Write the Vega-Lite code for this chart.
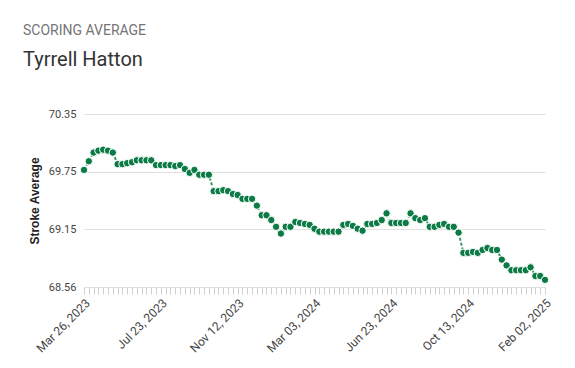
{
  "$schema": "https://vega.github.io/schema/vega-lite/v6.json",
  "autosize": {"type": "none"},
  "width": 461,
  "height": 173,
  "padding": {"left": 84, "top": 114, "right": 30, "bottom": 81},
  "background": "#ffffff",
  "config": {"view": {"stroke": null}},
  "title": {
    "text": "SCORING AVERAGE",
    "subtitle": "Tyrrell Hatton",
    "anchor": "start",
    "frame": "group",
    "dx": -61,
    "offset": 38,
    "font": "Roboto",
    "fontSize": 14,
    "fontWeight": "normal",
    "color": "#757575",
    "subtitleFont": "Roboto",
    "subtitleFontSize": 20,
    "subtitleColor": "#333333",
    "subtitlePadding": 12
  },
  "data": {
    "values": [
      {"date": "2023-03-26", "avg": 69.77},
      {"date": "2023-04-02", "avg": 69.86},
      {"date": "2023-04-09", "avg": 69.95},
      {"date": "2023-04-16", "avg": 69.97},
      {"date": "2023-04-23", "avg": 69.98},
      {"date": "2023-04-30", "avg": 69.97},
      {"date": "2023-05-07", "avg": 69.95},
      {"date": "2023-05-14", "avg": 69.83},
      {"date": "2023-05-21", "avg": 69.83},
      {"date": "2023-05-28", "avg": 69.84},
      {"date": "2023-06-11", "avg": 69.85},
      {"date": "2023-06-18", "avg": 69.87},
      {"date": "2023-06-25", "avg": 69.87},
      {"date": "2023-07-02", "avg": 69.87},
      {"date": "2023-07-09", "avg": 69.87},
      {"date": "2023-07-16", "avg": 69.82},
      {"date": "2023-07-23", "avg": 69.82},
      {"date": "2023-07-30", "avg": 69.82},
      {"date": "2023-08-06", "avg": 69.82},
      {"date": "2023-08-13", "avg": 69.81},
      {"date": "2023-08-20", "avg": 69.82},
      {"date": "2023-08-27", "avg": 69.78},
      {"date": "2023-09-03", "avg": 69.74},
      {"date": "2023-09-10", "avg": 69.77},
      {"date": "2023-09-17", "avg": 69.72},
      {"date": "2023-09-24", "avg": 69.72},
      {"date": "2023-10-01", "avg": 69.72},
      {"date": "2023-10-08", "avg": 69.55},
      {"date": "2023-10-15", "avg": 69.55},
      {"date": "2023-10-22", "avg": 69.56},
      {"date": "2023-10-29", "avg": 69.55},
      {"date": "2023-11-05", "avg": 69.52},
      {"date": "2023-11-12", "avg": 69.51},
      {"date": "2023-11-19", "avg": 69.47},
      {"date": "2023-11-26", "avg": 69.47},
      {"date": "2023-12-03", "avg": 69.47},
      {"date": "2023-12-10", "avg": 69.4},
      {"date": "2023-12-17", "avg": 69.3},
      {"date": "2023-12-24", "avg": 69.3},
      {"date": "2023-12-31", "avg": 69.25},
      {"date": "2024-01-07", "avg": 69.18},
      {"date": "2024-01-14", "avg": 69.11},
      {"date": "2024-01-21", "avg": 69.18},
      {"date": "2024-01-28", "avg": 69.18},
      {"date": "2024-02-04", "avg": 69.23},
      {"date": "2024-02-11", "avg": 69.22},
      {"date": "2024-02-18", "avg": 69.21},
      {"date": "2024-02-25", "avg": 69.2},
      {"date": "2024-03-03", "avg": 69.16},
      {"date": "2024-03-10", "avg": 69.13},
      {"date": "2024-03-17", "avg": 69.13},
      {"date": "2024-03-24", "avg": 69.13},
      {"date": "2024-03-31", "avg": 69.13},
      {"date": "2024-04-07", "avg": 69.13},
      {"date": "2024-04-14", "avg": 69.2},
      {"date": "2024-04-21", "avg": 69.21},
      {"date": "2024-04-28", "avg": 69.19},
      {"date": "2024-05-05", "avg": 69.16},
      {"date": "2024-05-12", "avg": 69.14},
      {"date": "2024-05-19", "avg": 69.21},
      {"date": "2024-05-26", "avg": 69.21},
      {"date": "2024-06-02", "avg": 69.22},
      {"date": "2024-06-09", "avg": 69.25},
      {"date": "2024-06-16", "avg": 69.32},
      {"date": "2024-06-23", "avg": 69.22},
      {"date": "2024-06-30", "avg": 69.22},
      {"date": "2024-07-07", "avg": 69.22},
      {"date": "2024-07-14", "avg": 69.22},
      {"date": "2024-07-21", "avg": 69.32},
      {"date": "2024-07-28", "avg": 69.27},
      {"date": "2024-08-04", "avg": 69.25},
      {"date": "2024-08-11", "avg": 69.27},
      {"date": "2024-08-18", "avg": 69.18},
      {"date": "2024-08-25", "avg": 69.18},
      {"date": "2024-09-01", "avg": 69.2},
      {"date": "2024-09-08", "avg": 69.21},
      {"date": "2024-09-15", "avg": 69.18},
      {"date": "2024-09-22", "avg": 69.18},
      {"date": "2024-09-29", "avg": 69.12},
      {"date": "2024-10-06", "avg": 68.91},
      {"date": "2024-10-13", "avg": 68.91},
      {"date": "2024-10-20", "avg": 68.92},
      {"date": "2024-10-27", "avg": 68.91},
      {"date": "2024-11-03", "avg": 68.94},
      {"date": "2024-11-10", "avg": 68.96},
      {"date": "2024-11-17", "avg": 68.94},
      {"date": "2024-11-24", "avg": 68.94},
      {"date": "2024-12-01", "avg": 68.84},
      {"date": "2024-12-08", "avg": 68.78},
      {"date": "2024-12-15", "avg": 68.73},
      {"date": "2024-12-22", "avg": 68.73},
      {"date": "2024-12-29", "avg": 68.73},
      {"date": "2025-01-05", "avg": 68.73},
      {"date": "2025-01-12", "avg": 68.76},
      {"date": "2025-01-19", "avg": 68.67},
      {"date": "2025-01-26", "avg": 68.67},
      {"date": "2025-02-02", "avg": 68.63}
    ]
  },
  "encoding": {
    "x": {
      "field": "date",
      "type": "ordinal",
      "scale": {"type": "point", "padding": 0},
      "axis": {
        "title": null,
        "labelAngle": -45,
        "labelOverlap": false,
        "labelExpr": "indexof(['2023-03-26','2023-07-23','2023-11-12','2024-03-03','2024-06-23','2024-10-13','2025-02-02'], datum.value) >= 0 ? utcFormat(toDate(datum.value), '%b %d, %Y') : ''",
        "labelFont": "Roboto",
        "labelFontSize": 12,
        "labelColor": "#444444",
        "labelPadding": 3,
        "domainColor": "#e0e0e0",
        "tickColor": "#d0d0d0",
        "tickSize": 7,
        "grid": false
      }
    },
    "y": {
      "field": "avg",
      "type": "quantitative",
      "scale": {"domain": [68.556, 70.35], "nice": false, "zero": false},
      "axis": {
        "title": "Stroke Average",
        "titleFont": "Liberation Sans",
        "titleFontSize": 12,
        "titleFontWeight": "bold",
        "titleColor": "#222222",
        "titlePadding": 7,
        "values": [68.556, 69.154, 69.752, 70.35],
        "format": ".2f",
        "labelFont": "Roboto",
        "labelFontSize": 11,
        "labelColor": "#444444",
        "labelPadding": 8,
        "ticks": false,
        "domain": false,
        "grid": true,
        "gridColor": "#e0e0e0"
      }
    }
  },
  "layer": [
    {
      "mark": {"type": "line", "color": "#3a9a6a", "strokeWidth": 2, "strokeDash": [3, 2]}
    },
    {
      "mark": {"type": "point", "filled": true, "fill": "#0b7a45", "fillOpacity": 1, "stroke": "#ffffff", "strokeWidth": 1, "strokeOpacity": 1, "size": 55}
    }
  ]
}
